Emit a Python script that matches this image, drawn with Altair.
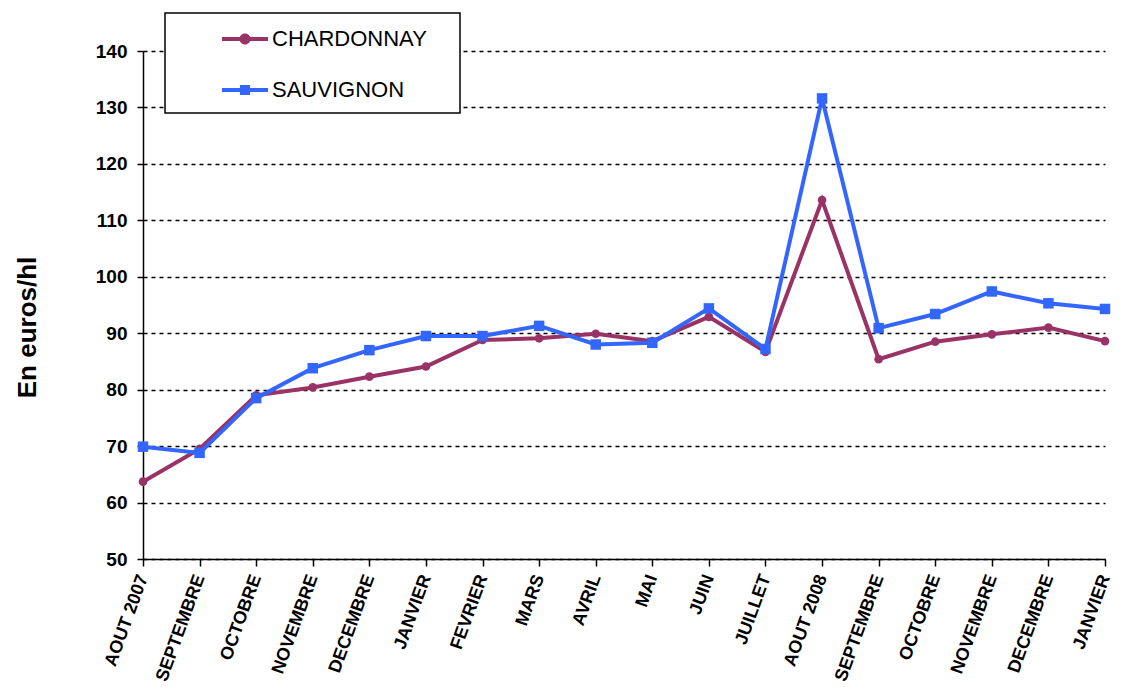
import altair as alt
import pandas as pd

months = ["AOUT 2007", "SEPTEMBRE", "OCTOBRE", "NOVEMBRE", "DECEMBRE", "JANVIER",
          "FEVRIER", "MARS", "AVRIL", "MAI", "JUIN", "JUILLET", "AOUT 2008",
          "SEPTEMBRE", "OCTOBRE", "NOVEMBRE", "DECEMBRE", "JANVIER"]
chardonnay = [63.7, 69.5, 79.0, 80.4, 82.3, 84.1, 88.8, 89.1, 89.9, 88.6, 92.9, 86.7,
              113.6, 85.4, 88.5, 89.8, 91.0, 88.6]
sauvignon = [69.9, 68.8, 78.5, 83.8, 87.0, 89.5, 89.5, 91.3, 88.0, 88.3, 94.4, 87.2,
             131.6, 90.9, 93.4, 97.4, 95.3, 94.3]
series_names = ["CHARDONNAY", "SAUVIGNON"]
series_colors = ["#993366", "#3366FF"]
y_ticks = [50, 60, 70, 80, 90, 100, 110, 120, 130, 140]

FONT = "Liberation Sans"
idx = list(range(len(months)))
df_c = pd.DataFrame({"i": idx, "v": chardonnay, "s": series_names[0]})
df_s = pd.DataFrame({"i": idx, "v": sauvignon, "s": series_names[1]})
df_all = pd.concat([df_c, df_s], ignore_index=True)

label_expr = "[" + ",".join("'" + m + "'" for m in months) + "][datum.value]"

x_enc = alt.X(
    "i:Q",
    scale=alt.Scale(domain=[0, len(months) - 1], nice=False, zero=False),
    axis=alt.Axis(values=idx, labelExpr=label_expr, title=None, grid=False,
                  labelAngle=-70, labelAlign="right", labelBaseline="middle",
                  labelFontSize=18, labelFontWeight="bold", labelFont=FONT,
                  labelPadding=9, tickSize=7, labelOverlap=False, labelFlush=False,
                  labelBound=False),
)
y_enc = alt.Y(
    "v:Q",
    scale=alt.Scale(domain=[50, 140], nice=False, zero=False),
    axis=alt.Axis(values=y_ticks, title="En euros/hl", grid=True, gridDash=[4, 4],
                  gridColor="black", gridWidth=1.5, labelFontSize=19,
                  labelFontWeight="bold", labelFont=FONT, labelPadding=10, tickSize=6,
                  titleFontSize=26, titleFont=FONT, titleFontWeight="bold",
                  titlePadding=55, titleY=276, labelOverlap=False),
)

line_c = alt.Chart(df_c).mark_line(color=series_colors[0], strokeWidth=4).encode(x=x_enc, y=y_enc)
pts_c = alt.Chart(df_c).mark_point(shape="circle", filled=True, size=75, opacity=1,
                                   color=series_colors[0]).encode(x=x_enc, y=y_enc)
line_s = alt.Chart(df_s).mark_line(color=series_colors[1], strokeWidth=4).encode(x=x_enc, y=y_enc)
pts_s = alt.Chart(df_s).mark_point(shape="square", filled=True, size=110, opacity=1,
                                   color=series_colors[1]).encode(x=x_enc, y=y_enc)

frame = alt.Chart(alt.Data(values=[{"k": 1}])).mark_rect(
    fill="white", stroke="black", strokeWidth=1.5
).encode(x=alt.value(22), x2=alt.value(317), y=alt.value(-38), y2=alt.value(62))

leg_paths = [
    "M-1,-0.09L1,-0.09L1,0.09L-1,0.09Z M0.24,0A0.24,0.24 0 1,1 -0.24,0A0.24,0.24 0 1,1 0.24,0Z",
    "M-1,-0.09L1,-0.09L1,0.09L-1,0.09Z M-0.22,-0.22L0.22,-0.22L0.22,0.22L-0.22,0.22Z",
]
leg = alt.Legend(orient="none", legendX=79, legendY=-35, title=None, symbolSize=2116,
                 labelFontSize=22, labelFont=FONT, labelColor="black", rowPadding=17,
                 labelOffset=4, symbolStrokeWidth=0, symbolOpacity=1, padding=0,
                 labelLimit=400)
legend_layer = alt.Chart(df_all).mark_point(filled=True, opacity=0).encode(
    x=x_enc, y=y_enc,
    color=alt.Color("s:N", scale=alt.Scale(domain=series_names, range=series_colors), legend=leg),
    shape=alt.Shape("s:N", scale=alt.Scale(domain=series_names, range=leg_paths), legend=leg),
)

chart = alt.layer(frame, line_c, pts_c, line_s, pts_s, legend_layer).properties(
    width=962, height=508,
    autosize=alt.AutoSizeParams(type="none"),
    padding={"left": 135, "top": 43, "right": 14, "bottom": 131},
).configure_view(stroke=None).configure_axis(
    domainColor="black", domainWidth=1.5, tickColor="black", tickWidth=1.5,
    labelColor="black", titleColor="black",
)

chart.save("out.html", embed_options={"renderer": "svg", "actions": False})
